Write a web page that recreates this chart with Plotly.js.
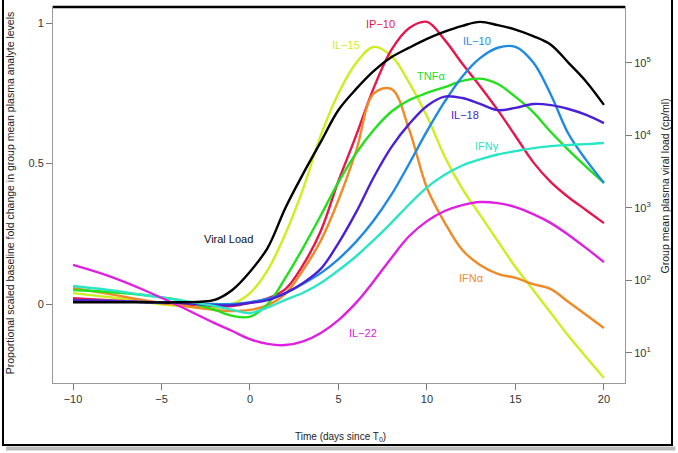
<!DOCTYPE html>
<html>
<head>
<meta charset="utf-8">
<script src="https://cdn.plot.ly/plotly-3.0.1.min.js"></script>
<style>html,body{margin:0;padding:0;background:#fff;}#chart{width:678px;height:453px;}</style>
</head>
<body>
<div id="chart"></div>
<script>
// Time (days since T0)
const days = [-10,-8,-6,-4,-2,-1,0,1,2,3,4,5,6,7,8,9,10,11,12,13,14,15,16,17,18,19,20];

// Proportional scaled baseline fold change (left axis)
const il15 = [0.039,0.025,0.007,-0.007,-0.014,0.0,0.039,0.121,0.250,0.410,0.600,0.750,0.858,0.915,0.882,0.787,0.668,0.525,0.410,0.317,0.224,0.132,0.050,-0.032,-0.114,-0.189,-0.263];
const ip10 = [0.021,0.014,0.007,0.0,-0.007,-0.007,0.004,0.020,0.053,0.139,0.260,0.438,0.600,0.770,0.905,0.982,1.004,0.940,0.855,0.775,0.690,0.598,0.505,0.434,0.380,0.334,0.288];
const ifna = [0.057,0.036,0.014,-0.004,-0.021,-0.025,-0.021,-0.004,0.036,0.121,0.225,0.370,0.545,0.750,0.765,0.620,0.413,0.290,0.192,0.139,0.107,0.093,0.071,0.053,0.007,-0.039,-0.085];
const tnfa = [0.050,0.043,0.032,0.014,-0.021,-0.042,-0.045,0.000,0.093,0.200,0.315,0.434,0.537,0.620,0.685,0.726,0.751,0.772,0.794,0.802,0.783,0.737,0.683,0.612,0.548,0.488,0.431];
const il10 = [0.012,0.011,0.007,0.004,0.0,0.0,0.007,0.018,0.039,0.072,0.110,0.160,0.222,0.298,0.390,0.500,0.615,0.720,0.810,0.875,0.912,0.915,0.860,0.745,0.605,0.512,0.431];
const il18 = [0.014,0.011,0.007,0.004,-0.004,-0.004,0.004,0.014,0.039,0.075,0.125,0.217,0.327,0.452,0.559,0.641,0.705,0.738,0.733,0.712,0.690,0.698,0.712,0.708,0.694,0.673,0.644];
const ifng = [0.064,0.050,0.032,0.014,-0.007,-0.021,-0.032,-0.012,0.015,0.040,0.075,0.120,0.170,0.228,0.290,0.355,0.415,0.460,0.493,0.515,0.532,0.544,0.555,0.562,0.566,0.569,0.573];
const il22 = [0.139,0.100,0.050,-0.007,-0.068,-0.096,-0.125,-0.142,-0.146,-0.133,-0.103,-0.057,0.005,0.082,0.165,0.242,0.295,0.331,0.352,0.363,0.359,0.345,0.320,0.288,0.246,0.199,0.149];

// Group mean plasma viral load (cp/ml), right log axis
const viralLoad = [50,50,50,50,54,74,132,282,1000,2950,8130,22400,43700,77600,120000,162000,214000,269000,324000,367000,331000,288000,234000,178000,100000,55000,26300];

// Series names, colours, label positions
const seriesNames = ["IL\u221215","IP\u221210","IFN\u03b1","TNF\u03b1","IL\u221210","IL\u221218","IFN\u03b3","IL\u221222"];
const seriesData = [il15, ip10, ifna, tnfa, il10, il18, ifng, il22];
const seriesColors = ["#cdee1f","#e6174c","#f08a26","#22e01e","#1f8ae3","#4a20d6","#2ae6c6","#e020e0"];
const labelX = [5.4, 7.4, 12.5, 10.2, 12.8, 12.15, 13.4, 6.4];
const labelY = [0.922, 0.996, 0.093, 0.811, 0.936, 0.673, 0.562, -0.103];

const FONT = "Liberation Sans, Arial, Helvetica, sans-serif";

const traces = seriesData.map((d, i) => ({
  x: days, y: d, type: "scatter", mode: "lines", name: seriesNames[i],
  line: {color: seriesColors[i], width: 2.4, shape: "spline", smoothing: 1},
  yaxis: "y", hoverinfo: "skip"
}));
traces.push({
  x: days, y: viralLoad, type: "scatter", mode: "lines", name: "Viral Load",
  line: {color: "#000000", width: 2.4, shape: "spline", smoothing: 1},
  yaxis: "y2", hoverinfo: "skip"
});

const annotations = seriesNames.map((n, i) => ({
  x: labelX[i], y: labelY[i], xref: "x", yref: "y", text: n, showarrow: false,
  font: {family: FONT, size: 11, color: seriesColors[i]}, xanchor: "center", yanchor: "middle"
}));
annotations.push({x: -1.2, y: 0.231, xref: "x", yref: "y", text: "Viral Load", showarrow: false,
  font: {family: FONT, size: 11, color: "#111"}, xanchor: "center", yanchor: "middle"});
annotations.push({x: -0.075, y: 0.505, xref: "paper", yref: "paper", text: "Proportional scaled baseline fold change in group mean plasma analyte levels",
  showarrow: false, textangle: -90, font: {family: FONT, size: 10.5, color: "#222"}, xanchor: "center", yanchor: "middle"});
annotations.push({x: 1.07, y: 0.523, xref: "paper", yref: "paper", text: "Group mean plasma viral load (cp/ml)",
  showarrow: false, textangle: -90, font: {family: FONT, size: 10.5, color: "#222"}, xanchor: "center", yanchor: "middle"});
annotations.push({x: 0.502, y: -0.143, xref: "paper", yref: "paper", text: "Time (days since T<sub>0</sub>)",
  showarrow: false, font: {family: FONT, size: 10, color: "#222"}, xanchor: "center", yanchor: "middle"});

const layout = {
  width: 678, height: 453,
  margin: {l: 53, r: 53, t: 7, b: 70},
  paper_bgcolor: "#ffffff", plot_bgcolor: "#ffffff",
  showlegend: false,
  font: {family: FONT, size: 11, color: "#333"},
  xaxis: {range: [-11.13, 21.19], tickvals: [-10,-5,0,5,10,15,20], ticks: "outside", ticklen: 6,
    tickcolor: "#777", showgrid: false, zeroline: false, showline: true, mirror: true, linecolor: "#999", linewidth: 1,
    tickfont: {family: FONT, size: 11, color: "#333"}},
  yaxis: {range: [-0.281, 1.057], tickvals: [0, 0.5, 1], ticktext: ["0","0.5","1"], ticks: "outside", ticklen: 6,
    tickcolor: "#777", showgrid: false, zeroline: false, showline: true, mirror: true, linecolor: "#999", linewidth: 1,
    tickfont: {family: FONT, size: 11, color: "#333"}},
  yaxis2: {type: "log", overlaying: "y", side: "right", range: [0.586, 5.77],
    tickvals: [10, 100, 1000, 10000, 100000],
    ticktext: ["10<sup>1</sup>","10<sup>2</sup>","10<sup>3</sup>","10<sup>4</sup>","10<sup>5</sup>"],
    ticks: "outside", ticklen: 6, tickcolor: "#777", showgrid: false, zeroline: false, showline: false,
    tickfont: {family: FONT, size: 11, color: "#333"}},
  annotations: annotations,
  shapes: [
    {type: "line", xref: "paper", yref: "paper", x0: 0, x1: 1, y0: 1, y1: 1, line: {color: "#000", width: 2.5}},
    {type: "rect", xref: "paper", yref: "paper", x0: -0.0874, x1: 1.0822, y0: -0.1649, y1: 1.05,
      line: {color: "#000", width: 2}, layer: "above"},
    {type: "line", xref: "paper", yref: "paper", x0: -0.082, x1: 1.088, y0: -0.1745, y1: -0.1745,
      line: {color: "#bbb", width: 4}}
  ]
};

Plotly.newPlot("chart", traces, layout, {displayModeBar: false, staticPlot: true});
</script>
</body>
</html>
